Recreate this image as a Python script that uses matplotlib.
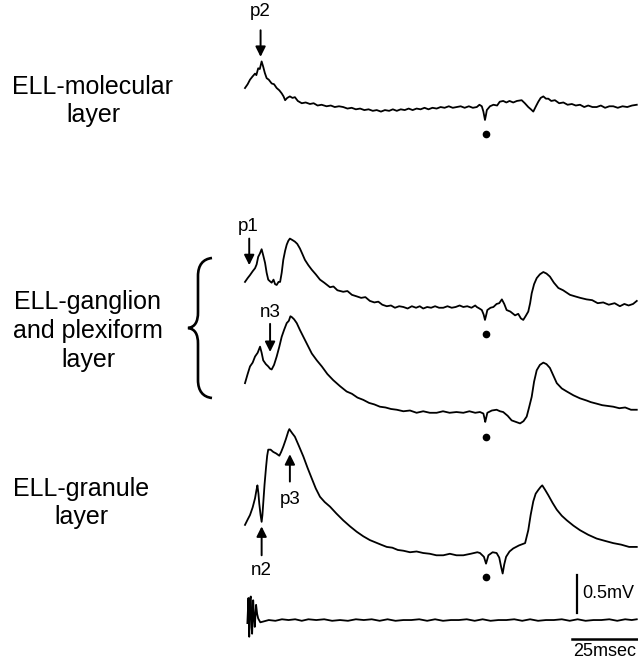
import numpy as np
import matplotlib
matplotlib.use('Agg')
import matplotlib.pyplot as plt
from matplotlib.path import Path
import matplotlib.patches as mpatches
from matplotlib.transforms import Affine2D

plt.rcParams['font.family'] = ['Liberation Sans', 'DejaVu Sans']

# ---- recorded field potentials (time in ms, potential in mV re. late baseline) ----
t_molecular = [0, 1.0, 1.9, 2.8, 3.8, 4.3, 5.0, 5.6, 6.3, 6.9, 7.5, 8.2, 9.0, 10.1, 11.0, 12.0,
               13.0, 13.9, 14.6, 15.2, 16.0, 17.0, 18.0, 18.9, 20.0, 21.5, 23.0, 24.6, 26.0,
               27.5, 29.0, 30.9, 32.5, 34.0, 35.6, 37.2, 38.8, 40.4, 42.0, 43.6, 45.2, 46.8,
               48.4, 49.9, 51.5, 53.0, 54.6, 56.0, 57.5, 59.0, 60.5, 62.0, 63.5, 65.0, 66.5,
               68.0, 69.5, 71.0, 72.6, 74.1, 75.6, 77.2, 78.7, 80.2, 81.7, 83.2, 84.8, 86.3,
               87.8, 88.8, 89.7, 90.3, 90.9, 91.3, 91.6, 92.8, 94.1, 95.5, 96.5, 97.8, 99.0,
               100.2, 101.6, 103.0, 104.8, 106.0, 107.3, 108.3, 109.2, 110.2, 111.1, 112.0,
               113.0, 114.0, 114.9, 116.0, 117.4, 119.0, 120.6, 122.2, 123.8, 125.3, 126.9,
               128.5, 130.0, 131.6, 133.2, 134.8, 136.4, 138.0, 139.5, 141.2, 143.0, 144.8,
               146.6, 148.4]
v_molecular = [0.25, 0.30, 0.36, 0.40, 0.44, 0.42, 0.51, 0.50, 0.60, 0.53, 0.45, 0.38, 0.36,
               0.31, 0.30, 0.25, 0.22, 0.18, 0.14, 0.09, 0.12, 0.14, 0.12, 0.13, 0.08, 0.05,
               0.06, 0.04, 0.05, 0.02, 0.03, 0.01, 0.02, 0.00, 0.01, 0.00, -0.02, -0.01, -0.03,
               -0.02, -0.04, -0.03, -0.05, -0.04, -0.06, -0.04, -0.05, -0.03, -0.05, -0.03,
               -0.04, -0.02, -0.04, -0.02, -0.03, -0.01, -0.03, -0.01, -0.02, 0.00, -0.01,
               0.01, -0.01, 0.00, 0.01, -0.01, 0.01, -0.01, 0.00, 0.03, 0.01, -0.06, -0.17,
               -0.10, -0.04, 0.01, 0.03, 0.02, 0.07, 0.08, 0.06, 0.08, 0.06, 0.08, 0.09, 0.05,
               0.00, -0.03, -0.06, 0.01, 0.07, 0.12, 0.14, 0.11, 0.11, 0.08, 0.09, 0.05, 0.06,
               0.03, 0.04, 0.02, 0.03, 0.00, 0.02, 0.00, 0.00, 0.02, -0.01, 0.01, 0.01, -0.01,
               0.01, 0.00, 0.02, 0.03]

t_ganglion_a = [0, 1.0, 1.9, 2.9, 3.8, 4.4, 5.0, 5.6, 6.3, 6.9, 7.6, 8.2, 8.8, 9.4, 10.1, 10.8,
                11.4, 12.0, 12.7, 13.3, 13.9, 14.5, 15.2, 15.8, 16.4, 17.0, 18.0, 18.9, 19.8,
                20.8, 21.7, 22.7, 24.0, 25.3, 26.8, 28.4, 30.0, 32.2, 33.5, 35.0, 37.2, 38.8,
                40.5, 42.3, 44.0, 45.6, 47.3, 49.0, 50.5, 52.0, 53.7, 55.3, 56.8, 58.4, 60.0,
                61.6, 63.2, 64.8, 66.2, 67.5, 69.0, 70.5, 72.0, 73.5, 75.1, 76.7, 78.3, 79.8,
                81.3, 82.7, 84.2, 85.8, 87.2, 87.8, 88.8, 89.7, 90.4, 90.9, 91.4, 91.8, 93.0,
                94.1, 95.3, 96.3, 97.3, 98.2, 99.1, 100.5, 102.3, 103.5, 104.5, 105.4, 106.3,
                107.3, 108.0, 108.6, 109.5, 110.5, 111.7, 113.0, 114.2, 115.5, 117.0, 118.7,
                120.5, 123.1, 125.0, 127.0, 129.4, 131.5, 133.6, 135.7, 137.8, 140.0, 142.0,
                143.7, 145.3, 147.0, 148.4]
v_ganglion_a = [0.33, 0.38, 0.42, 0.47, 0.51, 0.56, 0.66, 0.70, 0.76, 0.68, 0.58, 0.45, 0.36,
                0.34, 0.32, 0.36, 0.30, 0.29, 0.33, 0.33, 0.45, 0.62, 0.74, 0.82, 0.87, 0.90,
                0.88, 0.86, 0.83, 0.77, 0.70, 0.62, 0.55, 0.49, 0.43, 0.36, 0.32, 0.26, 0.27,
                0.22, 0.20, 0.21, 0.16, 0.14, 0.12, 0.13, 0.08, 0.06, 0.07, 0.03, 0.01, 0.02,
                -0.01, 0.01, 0.00, -0.02, 0.01, -0.01, 0.01, -0.02, 0.00, -0.01, 0.01, -0.01,
                -0.01, 0.01, -0.01, 0.00, 0.02, 0.00, 0.01, -0.01, 0.02, 0.00, -0.02, -0.04,
                -0.10, -0.17, -0.10, -0.04, -0.01, 0.00, 0.04, 0.05, 0.10, 0.04, -0.04, -0.06,
                -0.11, -0.09, -0.15, -0.17, -0.12, -0.06, 0.05, 0.18, 0.30, 0.38, 0.43, 0.46,
                0.44, 0.40, 0.32, 0.25, 0.22, 0.16, 0.14, 0.12, 0.10, 0.09, 0.05, 0.06, 0.03,
                0.05, 0.01, 0.04, 0.02, 0.04, 0.08]

t_ganglion_b = [0, 1.0, 1.9, 2.9, 3.8, 4.8, 5.7, 6.3, 6.9, 7.9, 8.8, 9.5, 10.1, 11.0, 12.0, 13.0,
                13.9, 14.8, 15.8, 16.6, 17.2, 17.7, 18.6, 19.6, 20.8, 22.1, 23.7, 25.3, 27.2,
                29.1, 31.2, 33.4, 36.0, 38.5, 40.5, 42.6, 44.8, 47.0, 49.0, 51.1, 53.2, 55.3,
                57.5, 60.0, 62.5, 65.0, 67.5, 70.0, 72.6, 75.0, 77.5, 80.1, 82.7, 85.0, 87.2,
                89.0, 90.3, 90.7, 91.0, 91.4, 91.8, 93.5, 95.3, 96.6, 97.8, 99.5, 101.0, 102.6,
                104.2, 105.5, 106.7, 107.6, 108.6, 109.5, 110.5, 111.7, 113.0, 114.2, 115.5,
                116.8, 118.1, 120.0, 121.9, 124.4, 126.9, 129.5, 131.0, 133.2, 135.3, 137.4,
                139.5, 141.8, 144.0, 146.2, 148.4]
v_ganglion_b = [0.38, 0.50, 0.60, 0.65, 0.73, 0.78, 0.86, 0.78, 0.68, 0.63, 0.60, 0.57, 0.56,
                0.62, 0.73, 0.86, 0.99, 1.08, 1.17, 1.20, 1.26, 1.25, 1.22, 1.17, 1.08, 0.99,
                0.88, 0.77, 0.68, 0.60, 0.50, 0.42, 0.34, 0.27, 0.24, 0.19, 0.16, 0.12, 0.10,
                0.07, 0.06, 0.04, 0.03, 0.01, 0.02, -0.01, 0.01, -0.01, -0.01, 0.01, -0.01,
                0.00, -0.01, 0.01, -0.01, 0.00, -0.02, -0.08, -0.13, -0.07, -0.01, 0.02, 0.03,
                0.01, 0.00, -0.05, -0.11, -0.13, -0.15, -0.12, -0.06, 0.06, 0.20, 0.40, 0.55,
                0.62, 0.65, 0.63, 0.58, 0.48, 0.38, 0.31, 0.27, 0.22, 0.18, 0.15, 0.13, 0.11,
                0.09, 0.08, 0.07, 0.05, 0.06, 0.03, 0.03]

t_granule = [0, 1.0, 1.9, 2.9, 3.8, 4.3, 4.7, 5.1, 5.4, 5.9, 6.3, 6.6, 6.9, 7.4, 8.0, 8.4, 8.8,
             9.7, 10.7, 11.8, 13.0, 13.7, 14.5, 15.5, 16.4, 16.8, 17.8, 18.9, 20.4, 22.1, 23.7,
             25.3, 26.8, 28.4, 30.2, 32.2, 34.6, 37.2, 39.8, 42.3, 44.8, 47.3, 49.4, 51.5,
             53.7, 55.8, 57.9, 60.0, 62.5, 65.0, 67.5, 70.0, 72.5, 75.1, 77.6, 80.1, 82.7,
             85.5, 88.0, 89.0, 90.5, 91.3, 91.8, 92.2, 93.8, 95.3, 96.3, 97.0, 97.6, 98.2,
             98.9, 100.2, 101.6, 103.8, 106.1, 107.3, 108.2, 109.2, 110.1, 111.1, 112.0, 112.6,
             113.7, 114.9, 116.5, 118.1, 120.0, 121.9, 124.4, 126.9, 130.0, 133.2, 136.3,
             139.5, 142.5, 145.5, 148.4]
v_granule = [0.37, 0.44, 0.50, 0.60, 0.72, 0.82, 0.89, 0.78, 0.65, 0.50, 0.41, 0.50, 0.65, 0.90,
             1.14, 1.28, 1.36, 1.36, 1.33, 1.31, 1.28, 1.33, 1.40, 1.50, 1.60, 1.63, 1.58, 1.53,
             1.41, 1.27, 1.12, 0.98, 0.85, 0.74, 0.67, 0.61, 0.52, 0.43, 0.35, 0.28, 0.22, 0.17,
             0.14, 0.11, 0.08, 0.07, 0.04, 0.03, 0.01, 0.02, 0.00, -0.01, -0.03, -0.03, -0.01,
             -0.03, -0.03, -0.01, 0.01, 0.00, -0.05, -0.14, -0.08, -0.03, 0.01, 0.00, -0.06,
             -0.18, -0.27, -0.15, -0.05, 0.02, 0.06, 0.10, 0.13, 0.30, 0.50, 0.68, 0.78, 0.83,
             0.87, 0.89, 0.83, 0.76, 0.66, 0.57, 0.49, 0.43, 0.36, 0.30, 0.24, 0.19, 0.16, 0.13,
             0.11, 0.08, 0.08]

t_reference = [0.9, 1.3, 1.6, 1.9, 2.2, 2.5, 2.7, 3.1, 3.4, 3.7, 4.2, 4.6, 5.0, 5.8, 6.9, 9.0,
               11.5, 14.0, 16.5, 19.0, 21.5, 24.0, 27.0, 30.0, 33.0, 36.0, 39.0, 42.0, 45.0,
               48.0, 51.0, 54.0, 57.0, 60.0, 63.0, 66.0, 69.0, 72.0, 75.0, 78.0, 81.0, 84.0,
               87.0, 90.0, 93.0, 96.0, 99.0, 102.0, 105.0, 108.0, 111.0, 114.0, 117.0, 120.0,
               123.0, 126.0, 129.0, 132.0, 135.0, 138.0, 141.0, 144.0, 146.5, 148.4]
v_reference = [-0.04, 0.29, -0.22, 0.28, 0.31, -0.10, -0.18, 0.26, 0.05, -0.09, 0.20, 0.08, 0.02,
               -0.03, -0.02, 0.00, -0.01, 0.01, 0.00, 0.01, -0.01, 0.01, 0.00, 0.01, -0.01, 0.00,
               -0.01, 0.01, 0.00, 0.01, -0.01, 0.01, -0.01, 0.00, 0.00, 0.01, -0.01, 0.01, -0.01,
               0.00, 0.00, 0.01, -0.01, 0.01, -0.01, 0.00, 0.00, 0.01, -0.01, 0.01, -0.01, 0.00,
               0.00, 0.01, -0.01, 0.01, -0.01, 0.00, 0.00, 0.01, -0.01, 0.01, 0.00, 0.01]

stim_time = 91.2                               # ms, marked by the dots
dot_levels = [-0.36, -0.36, -0.33, -0.31]      # mV below each trace baseline
SCALE_MV = 0.5
SCALE_MS = 25

# ---- layout (figure units: ms horizontally, mV vertically) ----
PX_PER_MS = 2.64
PX_PER_MV = 76.0
W, H = 638, 661
X0 = 245                                       # pixel column of t = 0
offsets = [7.289, 4.658, 3.276, 1.421, 0.539]  # trace baselines

fig = plt.figure(figsize=(W / 100, H / 100), dpi=100)
ax = fig.add_axes([0, 0, 1, 1])
ax.set_xlim(-X0 / PX_PER_MS, (W - X0) / PX_PER_MS)
ax.set_ylim(0, H / PX_PER_MV)
ax.axis('off')

# pixel transform (origin top-left) for free-standing labels
pix = Affine2D().scale(1 / W, -1 / H).translate(0, 1) + fig.transFigure

traces = [(t_molecular, v_molecular), (t_ganglion_a, v_ganglion_a),
          (t_ganglion_b, v_ganglion_b), (t_granule, v_granule),
          (t_reference, v_reference)]
for (t, v), off in zip(traces, offsets):
    ax.plot(t, np.asarray(v) + off, color='black', lw=1.3, solid_joinstyle='round')

for lvl, off in zip(dot_levels, offsets[:4]):
    ax.plot(stim_time, lvl + off, 'o', color='black', markersize=4.5)


def arrow(t, v_tip, v_tail, off):
    ax.annotate('', xy=(t, v_tip + off), xytext=(t, v_tail + off),
                arrowprops=dict(arrowstyle='-|>', color='black', lw=1.4,
                                mutation_scale=15, shrinkA=0, shrinkB=0))


lab = dict(fontsize=13.5, ha='center', va='center')
# p2
arrow(5.9, 0.66, 1.01, offsets[0])
ax.text(5.9, 1.26 + offsets[0], 'p2', **lab)
# p1
arrow(1.6, 0.55, 0.90, offsets[1])
ax.text(1.2, 1.06 + offsets[1], 'p1', **lab)
# n3
arrow(9.5, 0.79, 1.16, offsets[2])
ax.text(9.5, 1.31 + offsets[2], 'n3', **lab)
# p3
arrow(17.0, 1.30, 0.94, offsets[3])
ax.text(17.0, 0.71 + offsets[3], 'p3', **lab)
# n2
arrow(6.3, 0.35, -0.03, offsets[3])
ax.text(6.3, -0.23 + offsets[3], 'n2', **lab)

# scale bars
bar_t = 125.8
bar_v = 0.632
ax.plot([bar_t, bar_t], [bar_v, bar_v + SCALE_MV], color='black', lw=1.6)
ax.text(bar_t + 1.9, bar_v + SCALE_MV / 2, f'{SCALE_MV}mV', fontsize=13, ha='left', va='center')
hb_t = 123.9
hb_v = 0.289
ax.plot([hb_t, hb_t + SCALE_MS], [hb_v, hb_v], color='black', lw=1.8)
ax.text(hb_t + SCALE_MS / 2, hb_v - 0.16, f'{SCALE_MS}msec', fontsize=13, ha='center', va='center')

# layer names
layer_kw = dict(fontsize=18, ha='center', va='center', multialignment='center',
                linespacing=1.25, transform=pix)
fig.text(93, 101, 'ELL-molecular\nlayer', **layer_kw)
fig.text(88, 331, 'ELL-ganglion\nand plexiform\nlayer', **layer_kw)
fig.text(81, 503, 'ELL-granule\nlayer', **layer_kw)

# curly brace grouping the two ganglion-layer traces
verts = [(212, 258), (203, 259), (198, 265), (198, 276), (198, 312),
         (198, 322), (195, 327), (188, 328),
         (195, 329), (198, 334), (198, 344), (198, 380),
         (198, 391), (203, 397), (212, 398)]
codes = [Path.MOVETO, Path.CURVE4, Path.CURVE4, Path.CURVE4, Path.LINETO,
         Path.CURVE4, Path.CURVE4, Path.CURVE4,
         Path.CURVE4, Path.CURVE4, Path.CURVE4, Path.LINETO,
         Path.CURVE4, Path.CURVE4, Path.CURVE4]
brace = mpatches.PathPatch(Path(verts, codes), facecolor='none', edgecolor='black',
                           lw=1.9, transform=pix)
fig.add_artist(brace)

fig.savefig('out.png', dpi=100)
